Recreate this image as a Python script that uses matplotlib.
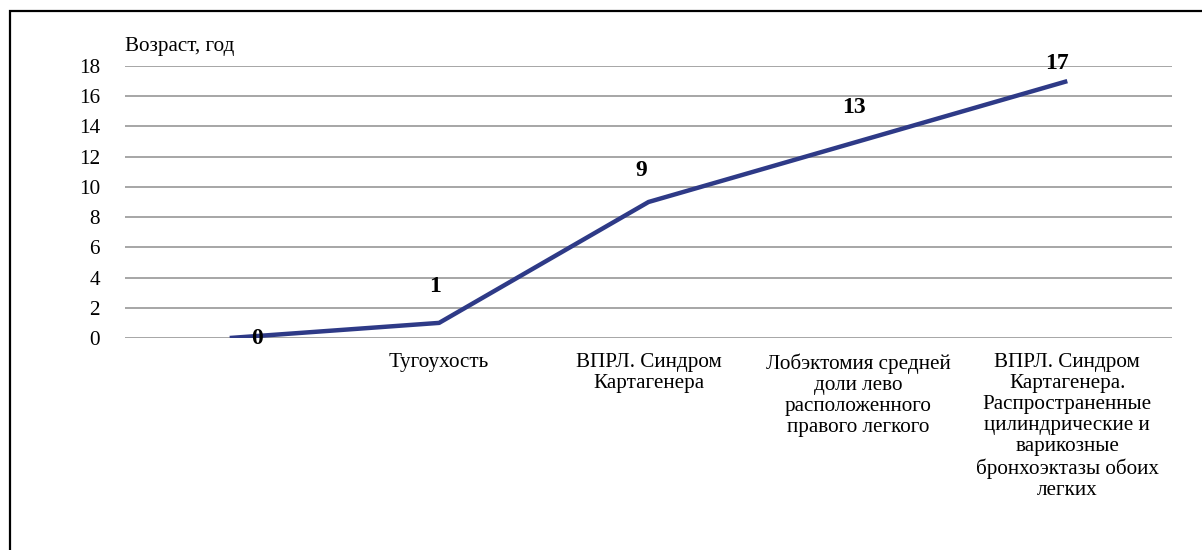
import matplotlib.pyplot as plt
from matplotlib.patches import Rectangle

# data
categories = ['', 'Тугоухость', 'ВПРЛ. Синдром\nКартагенера',
              'Лобэктомия средней\nдоли лево\nрасположенного\nправого легкого',
              'ВПРЛ. Синдром\nКартагенера.\nРаспространенные\nцилиндрические и\nварикозные\nбронхоэктазы обоих\nлегких']
ages = [0, 1, 9, 13, 17]
# label offsets in pixels (manually placed in the original)
label_offsets = [(27, 0), (-4, 36), (-7, 31), (-4, 34), (-10, 18)]

plt.rcParams['font.family'] = ['Liberation Serif', 'DejaVu Serif']

fig = plt.figure(figsize=(12.02, 5.5), dpi=100)
ax = fig.add_axes([125 / 1202, 1 - 338 / 550, (1172 - 125) / 1202, (338 - 66) / 550])

x = list(range(len(categories)))
ax.plot(x, ages, color='#2E3A87', linewidth=3.2, solid_capstyle='butt', zorder=3)

for xi, yi, (dx, dy) in zip(x, ages, label_offsets):
    ax.annotate(str(yi), (xi, yi), xytext=(dx, dy), textcoords='offset pixels',
                ha='center', va='center', fontsize=17, fontweight='bold', zorder=4)

ax.set_xlim(-0.5, len(categories) - 0.5)
ax.set_ylim(0, 18)
ax.set_yticks(range(0, 19, 2))
ax.yaxis.grid(True, color='#A6A6A6', linewidth=1.4)
ax.set_axisbelow(True)
for s in ax.spines.values():
    s.set_visible(False)
ax.tick_params(axis='both', length=0, labelsize=15.2)
ax.tick_params(axis='y', pad=18)
ax.set_xticks(x)
ax.set_xticklabels(categories, linespacing=1.14, va='top')
ax.tick_params(axis='x', pad=11)

fig.text(125 / 1202, 1 - 46 / 550, 'Возраст, год', fontsize=15.2, ha='left', va='center')

# outer frame
fig.patches.append(Rectangle((10.5 / 1202, -0.1), 1.2, 1.1 - 11 / 550,
                             transform=fig.transFigure, fill=False,
                             edgecolor='black', linewidth=1.6, clip_on=False))

fig.savefig('out.png', dpi=100)
